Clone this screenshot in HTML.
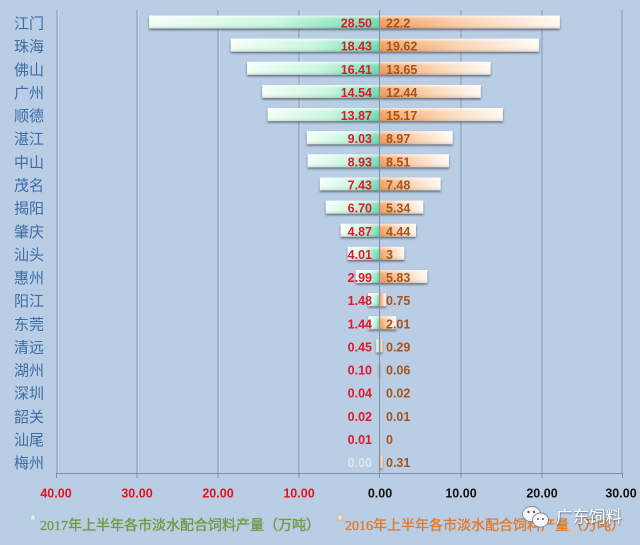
<!DOCTYPE html>
<html><head><meta charset="utf-8">
<style>
html,body{margin:0;padding:0;background:#b9cde4;}
svg{display:block;}
.cat{font-family:"Liberation Sans","Noto Sans CJK SC",sans-serif;font-size:15px;fill:#3f6ca6;text-anchor:middle;}
.lv{font-family:"Liberation Sans",sans-serif;font-weight:bold;font-size:12.5px;fill:#e0182a;text-anchor:end;}
.rv{font-family:"Liberation Sans",sans-serif;font-weight:bold;font-size:12.5px;fill:#a3541f;}
.tk{font-family:"Liberation Sans",sans-serif;font-weight:bold;font-size:12.5px;text-anchor:middle;}
.lg{font-family:"Liberation Serif","Noto Sans CJK SC",serif;font-size:14px;stroke-width:0.35;}
</style></head>
<body>
<svg width="640" height="545" viewBox="0 0 640 545" xmlns="http://www.w3.org/2000/svg">
<defs>
<linearGradient id="gL" x1="0" y1="0" x2="1" y2="0">
<stop offset="0" stop-color="#f3fff7"/><stop offset="0.55" stop-color="#c8f6de"/><stop offset="1" stop-color="#6cdab0"/>
</linearGradient>
<linearGradient id="gR" x1="0" y1="0" x2="1" y2="0">
<stop offset="0" stop-color="#f29e5c"/><stop offset="0.5" stop-color="#fbd3b2"/><stop offset="1" stop-color="#fffaf5"/>
</linearGradient>
<linearGradient id="gloss" x1="0" y1="0" x2="0" y2="1">
<stop offset="0" stop-color="#fff" stop-opacity="0.75"/><stop offset="0.25" stop-color="#fff" stop-opacity="0.15"/><stop offset="0.6" stop-color="#fff" stop-opacity="0"/><stop offset="1" stop-color="#000" stop-opacity="0.12"/>
</linearGradient>
<filter id="sh" x="-10%" y="-40%" width="120%" height="200%">
<feDropShadow dx="0" dy="1.5" stdDeviation="1.1" flood-color="#2a3340" flood-opacity="0.65"/>
</filter>
<filter id="ts" x="-10%" y="-30%" width="120%" height="160%">
<feDropShadow dx="0.5" dy="0.8" stdDeviation="0.8" flood-color="#303840" flood-opacity="0.8"/>
</filter>
</defs>
<rect width="640" height="545" fill="#b9cde4"/>

<!-- gridlines -->
<g stroke="#8a9bb1" stroke-width="1">
<line x1="57" y1="10" x2="57" y2="473"/>
<line x1="137" y1="10" x2="137" y2="473"/>
<line x1="218" y1="10" x2="218" y2="473"/>
<line x1="299" y1="10" x2="299" y2="473"/>
<line x1="461" y1="10" x2="461" y2="473"/>
<line x1="542" y1="10" x2="542" y2="473"/>
<line x1="622" y1="10" x2="622" y2="473"/>
</g>
<g stroke="#d3def0" stroke-width="1" opacity="0.6">
<line x1="58.5" y1="10" x2="58.5" y2="473"/>
<line x1="138.5" y1="10" x2="138.5" y2="473"/>
<line x1="219.5" y1="10" x2="219.5" y2="473"/>
<line x1="300.5" y1="10" x2="300.5" y2="473"/>
</g>

<!-- left bars (2017) -->
<g filter="url(#sh)" fill="url(#gL)">
<rect x="149.15" y="15.5" width="230.85" height="13"/>
<rect x="230.72" y="38.64" width="149.28" height="13"/>
<rect x="247.08" y="61.78" width="132.92" height="13"/>
<rect x="262.23" y="84.92" width="117.77" height="13"/>
<rect x="267.65" y="108.06" width="112.35" height="13"/>
<rect x="306.86" y="131.2" width="73.14" height="13"/>
<rect x="307.67" y="154.34" width="72.33" height="13"/>
<rect x="319.82" y="177.48" width="60.18" height="13"/>
<rect x="325.73" y="200.62" width="54.27" height="13"/>
<rect x="340.55" y="223.76" width="39.45" height="13"/>
<rect x="347.52" y="246.9" width="32.48" height="13"/>
<rect x="355.78" y="270.04" width="24.22" height="13"/>
<rect x="368.01" y="293.18" width="11.99" height="13"/>
<rect x="368.34" y="316.32" width="11.66" height="13"/>
<rect x="376.35" y="339.46" width="3.65" height="13"/>
<rect x="379.19" y="362.6" width="0.81" height="13"/>
</g>
<!-- right bars (2016) -->
<g filter="url(#sh)" fill="url(#gR)">
<rect x="380" y="15.5" width="179.82" height="13"/>
<rect x="380" y="38.64" width="158.92" height="13"/>
<rect x="380" y="61.78" width="110.57" height="13"/>
<rect x="380" y="84.92" width="100.76" height="13"/>
<rect x="380" y="108.06" width="122.88" height="13"/>
<rect x="380" y="131.2" width="72.66" height="13"/>
<rect x="380" y="154.34" width="68.93" height="13"/>
<rect x="380" y="177.48" width="60.59" height="13"/>
<rect x="380" y="200.62" width="43.25" height="13"/>
<rect x="380" y="223.76" width="35.96" height="13"/>
<rect x="380" y="246.9" width="24.3" height="13"/>
<rect x="380" y="270.04" width="47.22" height="13"/>
<rect x="380" y="293.18" width="6.08" height="13"/>
<rect x="380" y="316.32" width="16.28" height="13"/>
<rect x="380" y="339.46" width="2.35" height="13"/>
<rect x="380" y="455.16" width="2.51" height="13"/>
</g>
<!-- gloss -->
<g fill="url(#gloss)">
<rect x="149.15" y="15.5" width="230.85" height="13"/>
<rect x="230.72" y="38.64" width="149.28" height="13"/>
<rect x="247.08" y="61.78" width="132.92" height="13"/>
<rect x="262.23" y="84.92" width="117.77" height="13"/>
<rect x="267.65" y="108.06" width="112.35" height="13"/>
<rect x="306.86" y="131.2" width="73.14" height="13"/>
<rect x="307.67" y="154.34" width="72.33" height="13"/>
<rect x="319.82" y="177.48" width="60.18" height="13"/>
<rect x="325.73" y="200.62" width="54.27" height="13"/>
<rect x="340.55" y="223.76" width="39.45" height="13"/>
<rect x="347.52" y="246.9" width="32.48" height="13"/>
<rect x="355.78" y="270.04" width="24.22" height="13"/>
<rect x="368.01" y="293.18" width="11.99" height="13"/>
<rect x="368.34" y="316.32" width="11.66" height="13"/>
<rect x="380" y="15.5" width="179.82" height="13"/>
<rect x="380" y="38.64" width="158.92" height="13"/>
<rect x="380" y="61.78" width="110.57" height="13"/>
<rect x="380" y="84.92" width="100.76" height="13"/>
<rect x="380" y="108.06" width="122.88" height="13"/>
<rect x="380" y="131.2" width="72.66" height="13"/>
<rect x="380" y="154.34" width="68.93" height="13"/>
<rect x="380" y="177.48" width="60.59" height="13"/>
<rect x="380" y="200.62" width="43.25" height="13"/>
<rect x="380" y="223.76" width="35.96" height="13"/>
<rect x="380" y="246.9" width="24.3" height="13"/>
<rect x="380" y="270.04" width="47.22" height="13"/>
<rect x="380" y="316.32" width="16.28" height="13"/>
</g>

<!-- axes -->
<g stroke="#7f90a5" stroke-width="1">
<line x1="379.5" y1="10" x2="379.5" y2="478"/>
<line x1="56" y1="473.5" x2="623" y2="473.5"/>
<line x1="56.5" y1="473" x2="56.5" y2="478"/>
<line x1="137" y1="473" x2="137" y2="478"/>
<line x1="218" y1="473" x2="218" y2="478"/>
<line x1="299" y1="473" x2="299" y2="478"/>
<line x1="461" y1="473" x2="461" y2="478"/>
<line x1="542" y1="473" x2="542" y2="478"/>
<line x1="622.5" y1="473" x2="622.5" y2="478"/>
</g>

<!-- category labels -->
<g class="cat">
<text x="29" y="28.5">江门</text>
<text x="29" y="51.64">珠海</text>
<text x="29" y="74.78">佛山</text>
<text x="29" y="97.92">广州</text>
<text x="29" y="121.06">顺德</text>
<text x="29" y="144.2">湛江</text>
<text x="29" y="167.34">中山</text>
<text x="29" y="190.48">茂名</text>
<text x="29" y="213.62">揭阳</text>
<text x="29" y="236.76">肇庆</text>
<text x="29" y="259.9">汕头</text>
<text x="29" y="283.04">惠州</text>
<text x="29" y="306.18">阳江</text>
<text x="29" y="329.32">东莞</text>
<text x="29" y="352.46">清远</text>
<text x="29" y="375.6">湖州</text>
<text x="29" y="398.74">深圳</text>
<text x="29" y="421.88">韶关</text>
<text x="29" y="445.02">汕尾</text>
<text x="29" y="468.16">梅州</text>
</g>

<!-- left values -->
<g class="lv">
<text x="372" y="27.5">28.50</text>
<text x="372" y="50.64">18.43</text>
<text x="372" y="73.78">16.41</text>
<text x="372" y="96.92">14.54</text>
<text x="372" y="120.06">13.87</text>
<text x="372" y="143.2">9.03</text>
<text x="372" y="166.34">8.93</text>
<text x="372" y="189.48">7.43</text>
<text x="372" y="212.62">6.70</text>
<text x="372" y="235.76">4.87</text>
<text x="372" y="258.9">4.01</text>
<text x="372" y="282.04">2.99</text>
<text x="372" y="305.18">1.48</text>
<text x="372" y="328.32">1.44</text>
<text x="372" y="351.46">0.45</text>
<text x="372" y="374.6">0.10</text>
<text x="372" y="397.74">0.04</text>
<text x="372" y="420.88">0.02</text>
<text x="372" y="444.02">0.01</text>
<text x="372" y="467.16" style="fill:#dde6f0">0.00</text>
</g>
<!-- right values -->
<g class="rv">
<text x="386" y="27.5">22.2</text>
<text x="386" y="50.64">19.62</text>
<text x="386" y="73.78">13.65</text>
<text x="386" y="96.92">12.44</text>
<text x="386" y="120.06">15.17</text>
<text x="386" y="143.2">8.97</text>
<text x="386" y="166.34">8.51</text>
<text x="386" y="189.48">7.48</text>
<text x="386" y="212.62">5.34</text>
<text x="386" y="235.76">4.44</text>
<text x="386" y="258.9">3</text>
<text x="386" y="282.04">5.83</text>
<text x="386" y="305.18">0.75</text>
<text x="386" y="328.32">2.01</text>
<text x="386" y="351.46">0.29</text>
<text x="386" y="374.6">0.06</text>
<text x="386" y="397.74">0.02</text>
<text x="386" y="420.88">0.01</text>
<text x="386" y="444.02">0</text>
<text x="386" y="467.16">0.31</text>
</g>

<!-- tick labels -->
<g class="tk">
<text x="56" y="497.5" fill="#e3141f">40.00</text>
<text x="137" y="497.5" fill="#e3141f">30.00</text>
<text x="218" y="497.5" fill="#e3141f">20.00</text>
<text x="299" y="497.5" fill="#e3141f">10.00</text>
<text x="380" y="497.5" fill="#111">0.00</text>
<text x="461" y="497.5" fill="#111">10.00</text>
<text x="542" y="497.5" fill="#111">20.00</text>
<text x="621" y="497.5" fill="#111">30.00</text>
</g>

<!-- legend -->
<rect x="31" y="515" width="4" height="5" fill="#d8fbe8" stroke="#7fd8b0" stroke-width="0.6"/>
<text class="lg" x="40" y="530" fill="#6e9a45" stroke="#6e9a45">2017年上半年各市淡水配合饲料产量（万吨）</text>
<rect x="338" y="515" width="4" height="5" fill="#fde2cc" stroke="#eea060" stroke-width="0.6"/>
<text class="lg" x="345" y="530" fill="#e27a2c" stroke="#e27a2c">2016年上半年各市淡水配合饲料产量（万吨）</text>

<!-- watermark -->
<g>
<ellipse cx="531.5" cy="514" rx="9" ry="7.5" fill="#f7f8f9" stroke="#7d8894" stroke-width="0.9"/>
<ellipse cx="540.5" cy="520" rx="8" ry="7" fill="#f7f8f9" stroke="#7d8894" stroke-width="0.9"/>
<circle cx="528.5" cy="512" r="1.2" fill="#59626c"/>
<circle cx="534" cy="512" r="1.2" fill="#59626c"/>
<circle cx="538" cy="519" r="1" fill="#59626c"/>
<circle cx="543" cy="519" r="1" fill="#59626c"/>
</g>
<text x="556" y="522.5" font-family="'Liberation Sans','Noto Sans CJK SC',sans-serif" font-size="16.5" fill="#ffffff" filter="url(#ts)">广东饲料</text>
</svg>
</body></html>
